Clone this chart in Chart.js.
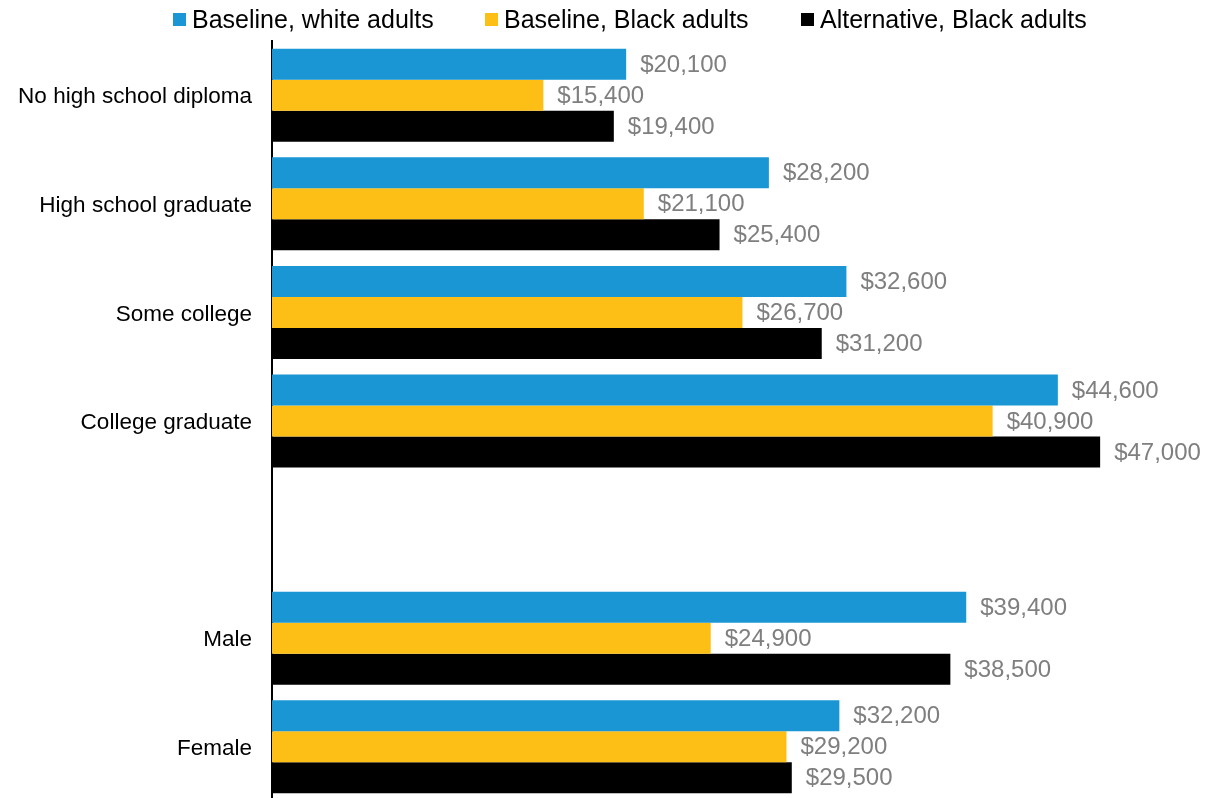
<!DOCTYPE html>
<html>
<head>
<meta charset="utf-8">
<script src="https://cdn.jsdelivr.net/npm/chart.js@4"></script>
<style>
  body { margin: 0; background: #fff; overflow: hidden; }
  #wrap { position: relative; width: 1209px; height: 798px; overflow: hidden; }
  #chart { position: absolute; left: 0; top: 0; }
  .leg { position: absolute; top: 4px; font: 25px "Liberation Sans", Arial, sans-serif; color: #000; white-space: nowrap; line-height: 30px; }
  .leg i { position: absolute; top: 9px; width: 13px; height: 13px; }
  .leg span { position: absolute; left: 19px; top: 0; }
</style>
</head>
<body>
<div id="wrap">
  <canvas id="chart" width="1209" height="801"></canvas>
  <div id="legend"></div>
</div>
<script>
const categories = ['No high school diploma', 'High school graduate', 'Some college', 'College graduate', '', 'Male', 'Female'];
const seriesNames = ['Baseline, white adults', 'Baseline, Black adults', 'Alternative, Black adults'];
const baselineWhite = [20100, 28200, 32600, 44600, null, 39400, 32200];
const baselineBlack = [15400, 21100, 26700, 40900, null, 24900, 29200];
const alternativeBlack = [19400, 25400, 31200, 47000, null, 38500, 29500];
const colors = ['#1a96d4', '#fdbf16', '#000000'];
const legendX = [173, 485, 801];

// legende en HTML pour placer les carres comme dans l'original
const legend = document.getElementById('legend');
seriesNames.forEach((name, i) => {
    const d = document.createElement('div');
    d.className = 'leg';
    d.style.left = legendX[i] + 'px';
    d.innerHTML = `<i style="background:${colors[i]}"></i><span>${name}</span>`;
    legend.appendChild(d);
});

// etiquettes de valeur a droite des barres
const valueLabels = {
    id: 'valueLabels',
    afterDatasetsDraw(chart) {
        const ctx = chart.ctx;
        ctx.save();
        ctx.font = '24px "Liberation Sans", Arial, sans-serif';
        ctx.fillStyle = '#7f7f7f';
        ctx.textBaseline = 'middle';
        chart.data.datasets.forEach((ds, i) => {
            chart.getDatasetMeta(i).data.forEach((bar, j) => {
                const v = ds.data[j];
                if (v == null) return;
                ctx.fillText('$' + v.toLocaleString('en-US'), bar.x + 14, bar.y + 1);
            });
        });
        ctx.restore();
    }
};

const ctx = document.getElementById('chart').getContext('2d');
new Chart(ctx, {
    type: 'bar',
    data: {
        labels: categories,
        datasets: [baselineWhite, baselineBlack, alternativeBlack].map((values, i) => ({
            label: seriesNames[i],
            data: values,
            backgroundColor: colors[i],
            borderWidth: 0
        }))
    },
    options: {
        indexAxis: 'y',
        responsive: false,
        animation: false,
        categoryPercentage: 0.8566,
        barPercentage: 1,
        layout: { padding: { top: 41, bottom: 0, left: 0, right: 56 } },
        plugins: {
            legend: { display: false },
            tooltip: { enabled: false }
        },
        scales: {
            x: { display: false, min: 0, max: 50000 },
            y: {
                grid: { display: false },
                border: { display: true, color: '#000', width: 2 },
                ticks: {
                    color: '#000',
                    padding: 12,
                    labelOffset: 2,
                    font: { family: '"Liberation Sans", Arial, sans-serif', size: 22.5 }
                },
                afterFit(scale) {
                    scale.width = 272;
                    scale.paddingTop = 0;
                    scale.paddingBottom = 0;
                }
            }
        }
    },
    plugins: [valueLabels]
});
</script>
</body>
</html>
